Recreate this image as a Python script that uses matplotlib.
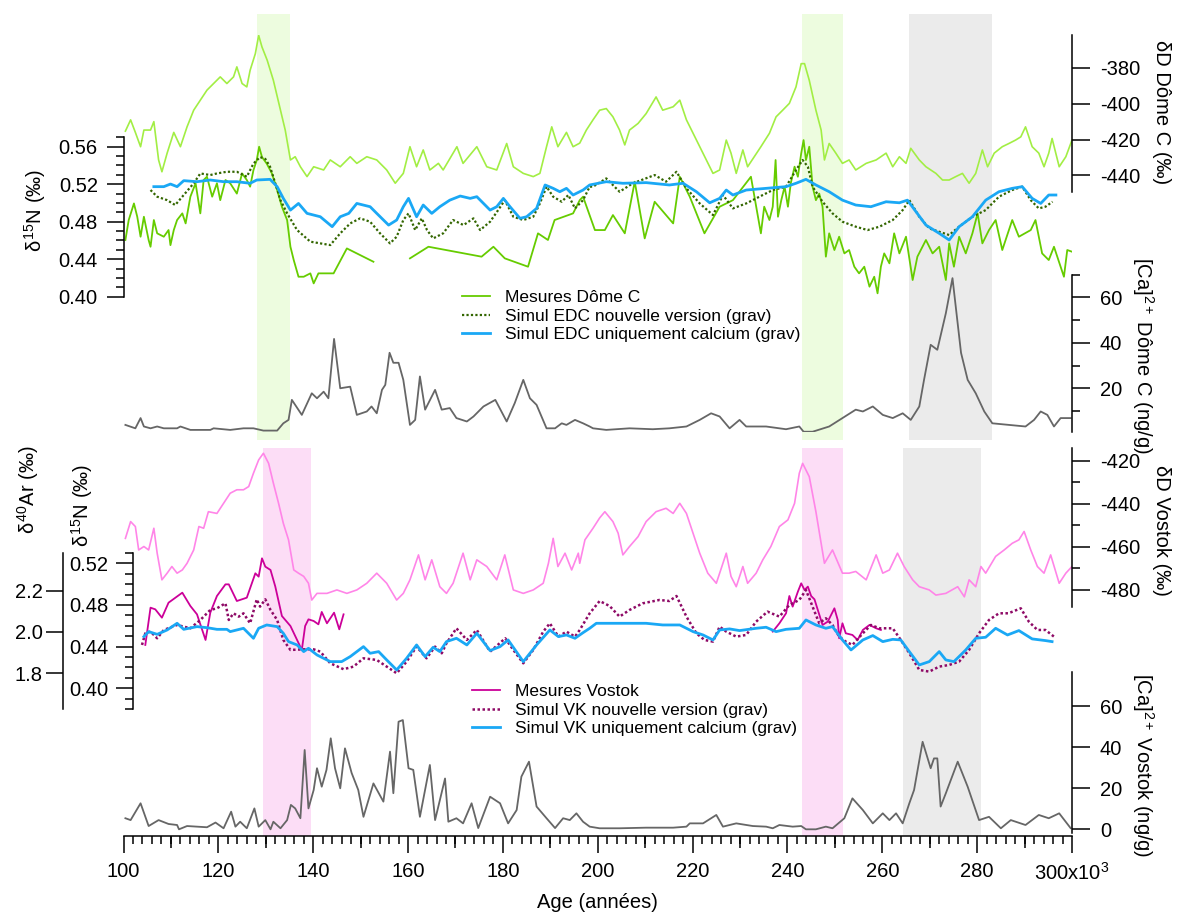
import numpy as np
import matplotlib
matplotlib.use('Agg')
import matplotlib.pyplot as plt
from matplotlib.ticker import MultipleLocator, FixedLocator, FormatStrFormatter, NullLocator

plt.rcParams['font.family'] = ['Liberation Sans', 'DejaVu Sans']
plt.rcParams['axes.unicode_minus'] = False
plt.rcParams['mathtext.fontset'] = 'custom'
plt.rcParams['mathtext.rm'] = 'Liberation Sans'
plt.rcParams['mathtext.it'] = 'Liberation Sans'

# ---------------- données (âge en ka) ----------------
# dD Dome C (permil)
dD_dc = [(100.4, -415.3), (101.5, -409), (102.5, -416), (103.6, -424), (104.3, -414.7), (105.7, -414.7),
         (106.4, -410), (107.4, -431.4), (108.1, -438), (109.2, -427.6), (110.6, -416), (112, -424),
         (113.4, -412.9), (114.8, -403.6), (116.2, -398), (117.6, -392.4), (119, -388.7), (120.4, -385),
         (121.8, -388.7), (123.2, -385), (123.9, -379.4), (125, -388.7), (126, -390.6), (126.7, -381.3),
         (127.8, -372), (128.5, -361.8), (129.2, -368.3), (130.3, -375.7), (131.6, -386.9), (133.1, -403.6),
         (134.1, -414.7), (135.2, -431.4), (136.2, -429.6), (137.3, -435.2), (138.7, -440.7), (140.1, -435.2),
         (142.2, -437), (143.6, -431.4), (145.7, -435.2), (147.8, -429.6), (149.2, -433.3), (151.3, -429.6),
         (153.4, -431.4), (155.5, -437), (157.3, -444.4), (159, -438.9), (160.4, -424), (161.8, -435.2),
         (163.2, -425.8), (164.6, -437), (166.4, -433.3), (167.4, -437), (170.3, -424), (171.6, -433.3),
         (174.5, -424), (176.6, -435.2), (178.7, -437), (180.8, -422.2), (182.2, -435.2), (184.3, -438.9),
         (186.4, -440.7), (187.8, -438.9), (189.2, -424), (190.3, -412.9), (191.6, -424), (193.4, -416),
         (194.8, -424), (196.2, -422), (197.6, -414.7), (199, -409), (200.4, -403.6), (201.8, -402.7),
         (203.2, -407.3), (204.6, -414.7), (205.7, -423), (206.7, -414.7), (208.5, -411), (210.2, -405.5),
         (212.3, -396.2), (213.7, -403.6), (215.9, -401.7), (217.3, -398), (218.7, -409), (220.1, -416.5),
         (221.5, -424), (222.9, -431.4), (224.3, -438.9), (225.7, -437), (227.1, -420.3), (228.1, -427.6),
         (229.2, -438.9), (230.6, -425.8), (231.6, -435.2), (233, -429.6), (234.4, -424), (236.2, -416.5),
         (237.6, -407.3), (239, -403.6), (240.4, -399.8), (241.8, -390.6), (242.9, -377.6), (243.6, -377.6),
         (244.6, -386.9), (246, -403.6), (247.1, -414.7), (247.8, -431.4), (248.8, -422.2), (250.2, -427.6),
         (251.6, -433.3), (253, -431.4), (254.4, -437), (256.6, -433.3), (258.7, -431.4), (260.8, -427.6),
         (262.2, -435.2), (263.6, -429.6), (265, -433.3), (266, -424.9), (267.8, -431.4), (269.2, -435.2),
         (271.3, -438.9), (272.7, -442.6), (274.1, -442.6), (275.5, -440.7), (276.9, -438.9), (278.3, -444.4),
         (279.7, -438.9), (281.1, -425.8), (282.2, -435.2), (283.6, -427.6), (285.3, -424), (286.7, -422.2),
         (288.1, -420.3), (289.2, -418.5), (290.2, -412.9), (291.6, -424), (293, -427.6), (294.1, -435.2),
         (295.1, -427.6), (295.8, -419.4), (297.3, -435.2), (298.7, -429.6), (300, -420.3)]

# d15N Dome C mesures (permil)
n15_dc = [(100.4, 0.4605), (101.1, 0.4818), (102.2, 0.4995), (102.9, 0.4853), (103.6, 0.464), (104.3, 0.4853),
          (105.3, 0.4605), (105.7, 0.4533), (106.4, 0.4818), (107.1, 0.4676), (108.5, 0.464), (109.5, 0.4711),
          (109.9, 0.455), (110.6, 0.4711), (111.3, 0.4818), (112.4, 0.4889), (113.1, 0.4782), (114.1, 0.5067),
          (115.2, 0.521), (116.2, 0.4889), (116.9, 0.5245), (117.6, 0.528), (118.7, 0.5067), (119.7, 0.521),
          (120.4, 0.503), (121.5, 0.5245), (122.5, 0.521), (123.9, 0.51), (125, 0.5315), (126, 0.5245),
          (126.7, 0.5174), (127.4, 0.535), (128.1, 0.5458), (128.6, 0.56), (129.2, 0.549), (130.2, 0.542),
          (131.3, 0.5315), (132.4, 0.5138), (133.4, 0.496), (134.5, 0.4818), (135.2, 0.4533), (135.9, 0.439),
          (136.9, 0.4213), (138, 0.4213), (139.4, 0.4249), (140.1, 0.4142), (141.1, 0.4249), (142.2, 0.4249),
          (143.6, 0.4249), (144.3, 0.4249), (147.1, 0.4515), (149.9, 0.4444), (152.7, 0.4373), (156, np.nan),
          (160.4, 0.4409), (164.3, 0.4533), (175.5, 0.4427), (178, 0.4533), (180.4, 0.4409), (185.3, 0.432),
          (187.4, 0.4676), (189.5, 0.4605), (190.9, 0.4818), (194.8, 0.4889), (196.2, 0.5030), (196.9, 0.5067),
          (199.4, 0.4711), (201.5, 0.4711), (203.2, 0.4871), (205.7, 0.4676), (207.8, 0.5227), (209.9, 0.4622),
          (212, 0.5013), (215.9, 0.4782), (217.3, 0.528), (219.4, 0.5067), (222.5, 0.4676), (225.7, 0.496),
          (228.5, 0.503), (232.3, 0.528), (234.4, 0.4676), (235.1, 0.496), (236.2, 0.4818), (236.9, 0.496),
          (237.5, 0.5458), (238, 0.4853), (238.7, 0.503), (239.4, 0.5174), (240.1, 0.496), (240.7, 0.521),
          (241.5, 0.5387), (242.2, 0.528), (242.9, 0.5529), (243.4, 0.5671), (243.9, 0.5458), (244.6, 0.56),
          (245.3, 0.5174), (246, 0.503), (246.7, 0.51), (247.4, 0.496), (248.1, 0.4427), (248.8, 0.4676),
          (249.9, 0.4498), (250.9, 0.464), (252, 0.4462), (253, 0.4498), (254.1, 0.432), (255.1, 0.4249),
          (256.2, 0.432), (257.3, 0.4107), (258.3, 0.4213), (259, 0.4036), (259.7, 0.432), (260.4, 0.4462),
          (261.5, 0.4356), (262.5, 0.4676), (263.6, 0.4462), (265, 0.464), (266.4, 0.4178), (267.4, 0.4427),
          (269.2, 0.4605), (270.6, 0.4462), (272, 0.4533), (273.4, 0.4178), (274.1, 0.4569), (275.1, 0.432),
          (276.2, 0.464), (277.6, 0.4462), (279, 0.4676), (280.1, 0.4889), (281.1, 0.4569), (282.5, 0.4711),
          (283.9, 0.4818), (285.3, 0.4498), (287.4, 0.4818), (288.8, 0.464), (291.3, 0.4711), (292.3, 0.4818),
          (293.7, 0.4462), (295.1, 0.4391), (296.2, 0.4533), (298.3, 0.4213), (299, 0.4498), (300, 0.448)]

# Simul EDC nouvelle version (grav)
sim_edc_new = [(105.7, 0.5138), (107.1, 0.5067), (109.2, 0.503), (110.9, 0.4978), (112.7, 0.5085), (114.8, 0.521),
               (116.2, 0.5315), (118.3, 0.5298), (119.7, 0.5315), (121.8, 0.5333), (123.9, 0.5333), (126, 0.528),
               (127.4, 0.542), (128.8, 0.549), (129.9, 0.547), (130.9, 0.5387), (132, 0.521), (133.1, 0.503),
               (134.5, 0.4889), (136.6, 0.4711), (139.4, 0.4587), (141.5, 0.4569), (143.6, 0.4551), (145.7, 0.4676),
               (147.8, 0.4782), (149.9, 0.4836), (152, 0.48), (154.1, 0.4676), (156.2, 0.4569), (157.6, 0.464),
               (159, 0.4818), (160.1, 0.4889), (161.5, 0.4711), (162.9, 0.4836), (164, 0.4711), (165.3, 0.4622),
               (167.4, 0.4676), (169.5, 0.4818), (171.7, 0.4764), (173.8, 0.4836), (175.2, 0.4711), (177.3, 0.48),
               (179, 0.4924), (180.4, 0.503), (182.2, 0.4853), (184.3, 0.4818), (186.4, 0.4853), (187.8, 0.4995),
               (189.2, 0.5174), (190.6, 0.5067), (192.4, 0.5013), (193.8, 0.5085), (195.2, 0.4942), (196.9, 0.503),
               (198.3, 0.5174), (199, 0.5174), (201.8, 0.5262), (204.6, 0.512), (207.4, 0.521), (212, 0.5298),
               (214.4, 0.5227), (216.6, 0.5333), (218.7, 0.5156), (221.5, 0.4995), (224.3, 0.4871), (226.4, 0.5085),
               (228.5, 0.4942), (231.3, 0.4995), (234.1, 0.5067), (236.9, 0.5138), (239.7, 0.5174), (241.8, 0.5351),
               (243.2, 0.5458), (244.3, 0.5387), (245.3, 0.5174), (247.4, 0.5013), (249.5, 0.4889), (251.6, 0.48),
               (254.4, 0.4747), (256.9, 0.4711), (259.4, 0.4747), (262.2, 0.4818), (264.3, 0.4924), (265.7, 0.503),
               (267.8, 0.4853), (269.9, 0.4729), (272, 0.4693), (274.1, 0.4658), (276.2, 0.4747), (279, 0.4853),
               (281.8, 0.4924), (284.6, 0.5067), (287.4, 0.5138), (289.5, 0.5174), (291.3, 0.503), (293, 0.4942),
               (294.4, 0.496), (295.9, 0.5013)]

# Simul EDC uniquement calcium (grav)
sim_edc_ca = [(106.4, 0.5174), (108.5, 0.5174), (109.9, 0.5202), (111.3, 0.5174), (112.7, 0.5238), (115.5, 0.5227),
              (118.3, 0.5245), (121.1, 0.5227), (123.9, 0.5227), (126.7, 0.521), (128.1, 0.5245), (130.9, 0.5252),
              (132.4, 0.5174), (133.7, 0.5049), (135.2, 0.4924), (136.9, 0.4995), (138.7, 0.4889), (141.5, 0.4853),
              (144, 0.4747), (145.7, 0.4853), (147.5, 0.4889), (149.2, 0.4995), (152, 0.496), (153.4, 0.4889),
              (155.9, 0.4764), (157.6, 0.4818), (159, 0.496), (160.1, 0.5049), (161.8, 0.4853), (163.2, 0.4978),
              (165, 0.4889), (166.7, 0.496), (168.8, 0.503), (171, 0.5074), (173.1, 0.5049), (174.5, 0.5067),
              (177.3, 0.4924), (178.7, 0.496), (180.1, 0.5049), (181.5, 0.496), (183.6, 0.4836), (185, 0.4853),
              (187.1, 0.4942), (188.9, 0.5192), (190.6, 0.5156), (192, 0.512), (193.4, 0.5156), (194.8, 0.5085),
              (196.9, 0.5138), (198.3, 0.5192), (201.8, 0.5227), (205.3, 0.521), (210.2, 0.5217), (215.1, 0.5192),
              (218, 0.521), (220.8, 0.512), (223.6, 0.5002), (225.7, 0.5049), (227.1, 0.5138), (228.5, 0.5085),
              (231.3, 0.5138), (235.5, 0.5156), (239.7, 0.5174), (241.8, 0.521), (243.9, 0.5252), (246, 0.5192),
              (248.8, 0.512), (251.6, 0.503), (254.4, 0.4978), (257.6, 0.496), (260.8, 0.5013), (263.6, 0.5002),
              (265.3, 0.503), (267.1, 0.4907), (269.2, 0.4764), (272, 0.4676), (274.1, 0.4605), (276.2, 0.4747),
              (279, 0.4853), (281.8, 0.503), (284.6, 0.512), (287.4, 0.5156), (289.5, 0.5174), (291.6, 0.5049),
              (293.4, 0.4995), (295.1, 0.5085), (296.6, 0.5085)]

# [Ca]2+ Dome C (ng/g)
ca_dc = [(100.4, 3.9), (102.5, 2.4), (103.6, 6.9), (104.3, 3.2), (105.7, 2.4), (107.1, 3.2), (108.5, 2.4),
         (111.3, 2.4), (112, 3.2), (114.1, 1.7), (118.3, 1.7), (119, 2.4), (122.5, 1.7), (125.3, 2.4),
         (127.4, 2.4), (129.5, 1.4), (132.4, 1.4), (133.7, 4.6), (134.8, 6.1), (135.5, 14.9), (137.6, 8.3),
         (139.7, 17.8), (140.8, 15.6), (142.2, 18.5), (143.2, 15.6), (144.4, 41.7), (145.7, 20), (147.8, 20.7),
         (149.2, 8.3), (151.3, 9.8), (152.3, 12), (153.4, 9), (154.5, 19.3), (155.2, 21.5), (156.1, 35.6),
         (156.9, 31.2), (158, 31.2), (159, 23.7), (160.4, 3.9), (161.5, 6.1), (162.5, 25.2), (163.6, 10.6),
         (165.7, 19.3), (167.1, 10.6), (168.8, 11.3), (170.2, 6.9), (172.4, 5.4), (173.8, 7.6), (175.9, 12),
         (178.4, 14.9), (180.8, 5.4), (182.5, 13.5), (184.3, 23.7), (185.7, 15.6), (187.1, 12.7), (189.2, 2.4),
         (191, 2.4), (192.4, 4.6), (193.4, 3.9), (195.2, 6.1), (196.9, 4.6), (198.3, 3.2), (199, 2.4),
         (201.8, 1.7), (206.7, 2.4), (211.6, 2), (215.1, 2.4), (218.7, 3.2), (221.5, 6.1), (223.9, 9),
         (225.7, 7.6), (227.8, 2.4), (229.9, 6.1), (231.3, 3.2), (235.5, 3.2), (239.7, 2), (242.5, 3.2),
         (243.4, 0.9), (245.3, 0.9), (248.8, 3.2), (251.6, 6.9), (254.4, 10.6), (255.9, 9.8), (258, 12),
         (260.1, 8.3), (262.2, 6.9), (264.3, 9), (266, 6.1), (267.8, 12), (268.8, 23.7), (270.2, 39.1),
         (271.6, 36.9), (273.4, 53), (274.8, 68.4), (276.6, 35.6), (278, 23.7), (279.7, 17.8), (281.5, 9.8),
         (283.2, 4.6), (286.7, 3.9), (290.2, 3.2), (292, 6.1), (293.4, 9.8), (294.8, 8.3), (296.2, 3.2),
         (297.6, 6.9), (299.7, 6.9)]

# dD Vostok (permil)
dD_vk = [(100.4, -456), (101.5, -448.2), (102.5, -450.5), (103.2, -461.4), (104.3, -459.8), (105.3, -461.4),
         (106.4, -451.3), (107.1, -462.9), (108.1, -475.3), (109.2, -472.2), (110.2, -469.1), (111.3, -472.2),
         (112.4, -470.7), (113.4, -467.6), (114.8, -461.4), (115.9, -450.5), (116.9, -451.3), (117.9, -443.6),
         (119.7, -444.4), (121.1, -439.7), (122.5, -435), (123.9, -433.4), (125.3, -433.4), (126.4, -431.9),
         (127.4, -425.7), (128.5, -419.5), (129.5, -416.4), (130.6, -421.1), (131.6, -430.3), (132.7, -439.7),
         (133.7, -449), (134.8, -456.7), (135.9, -470.7), (136.9, -472.2), (138, -473.7), (139, -476.9),
         (139.7, -484.7), (140.8, -481.6), (142.9, -481.6), (145, -480), (147.1, -481.6), (149.2, -480),
         (151.3, -476.9), (153.4, -472.2), (155.5, -476.9), (157.6, -484.7), (159, -481.6), (160.4, -475.3),
         (162.2, -463.7), (163.6, -475.3), (165, -466), (166.7, -478.5), (168.1, -481.6), (169.5, -476.9),
         (171.6, -462.9), (173.1, -475.3), (174.5, -466), (176.6, -469.1), (178.7, -475.3), (180.4, -463.7),
         (182.2, -480), (184.3, -481.6), (186.4, -480), (188.5, -476.9), (189.6, -467.6), (190.6, -456),
         (191.6, -469.1), (193.1, -462.9), (194.5, -470.7), (195.9, -462.9), (196.2, -467.6), (197.3, -456.7),
         (199, -451.3), (200.4, -446.5), (201.5, -443.6), (203.2, -448.2), (204.3, -453.6), (205.3, -463.7),
         (206.7, -459.8), (208.5, -455.2), (210.2, -448.2), (212.3, -443.6), (214.4, -442), (215.9, -444.4),
         (217.3, -439.7), (218.7, -444.4), (220.1, -453.6), (221.5, -462.9), (223.2, -472.2), (225, -476.9),
         (227.1, -462.9), (228.1, -473.7), (229.2, -478.5), (230.6, -469.1), (231.6, -476.9), (233.4, -472.2),
         (234.8, -466), (236.5, -459.8), (238.3, -450.5), (240.1, -447.4), (241.5, -439.7), (242.5, -425.7),
         (243.2, -421.1), (244.6, -427.3), (246, -443.6), (247.8, -467.6), (249.5, -461.4), (251.6, -472.2),
         (253, -472.2), (254.4, -471.4), (256.6, -475.3), (258, -467.6), (258.7, -463.7), (260.1, -472.2),
         (261.5, -470.7), (263.2, -462.9), (264.6, -469.1), (266.4, -475.3), (267.8, -478.5), (269.9, -480),
         (271.3, -482.4), (273.4, -481.6), (275.9, -478.5), (277.3, -483.2), (278.3, -475.3), (279.7, -478.5),
         (280.8, -469.1), (281.8, -472.2), (283.9, -464.4), (285.7, -461.4), (287.4, -458.3), (288.8, -456.7),
         (289.9, -452.8), (291.3, -461.4), (292.7, -469.1), (294.1, -472.2), (295.5, -463.7), (297.3, -476.9),
         (298.7, -472.2), (300, -469.1)]

# Mesures Vostok (d15N / d40Ar, permil)
mes_vk_1 = [(104.6, 0.4416), (105.7, 0.4774), (106.7, 0.4758), (108.1, 0.4678), (109.5, 0.4822), (112.4, 0.4918),
            (114.1, 0.479), (115.5, 0.471), (117.3, 0.4464), (118.3, 0.4726), (119.7, 0.4886), (121.5, 0.4998),
            (122.2, 0.4998), (123.9, 0.4838), (126, 0.487), (127.8, 0.5104), (128.5, 0.5072), (129.2, 0.5248),
            (129.9, 0.5168), (131, 0.5136), (132, 0.4978), (133.4, 0.4694), (135.2, 0.4598), (136.6, 0.4464),
            (137.6, 0.4368), (138.3, 0.4598), (139, 0.4662), (140.1, 0.4646), (141.1, 0.4614), (141.8, 0.4733),
            (142.9, 0.4624), (144.4, 0.4726), (145.5, 0.4566), (146.4, 0.471)]
mes_vk_2 = [(236.9, 0.4544), (238.3, 0.4624), (239.7, 0.472), (240.4, 0.4886), (241.1, 0.4784), (242.2, 0.4928),
            (242.9, 0.5008), (243.6, 0.4944), (244.3, 0.4976), (245, 0.4886), (245.7, 0.4854), (246.4, 0.4752),
            (247.4, 0.4608), (248.5, 0.464), (249.9, 0.4768), (250.6, 0.4656), (250.9, 0.448), (251.6, 0.4624),
            (252.3, 0.4528), (253.7, 0.4512), (254.8, 0.4464), (255.9, 0.456), (257.3, 0.4608), (258.7, 0.4576),
            (259.7, 0.456)]

# Simul VK nouvelle version (grav)
sim_vk_new = [(103.9, 0.4416), (104.6, 0.4528), (105.7, 0.4544), (107.1, 0.448), (108.5, 0.456), (111.3, 0.4608),
              (114.1, 0.4576), (116.2, 0.4656), (118.3, 0.4752), (119.7, 0.4768), (121.5, 0.4816), (122.2, 0.4656),
              (123.2, 0.472), (124.3, 0.4688), (125.3, 0.472), (126.7, 0.4624), (128.1, 0.4854), (128.8, 0.4784),
              (129.9, 0.4854), (131, 0.4752), (132.4, 0.4656), (133.7, 0.4464), (135.2, 0.4368), (138, 0.4374),
              (140.1, 0.4374), (141.5, 0.4352), (143.6, 0.424), (146.4, 0.4183), (148.5, 0.4208), (150.6, 0.4288),
              (153.4, 0.4272), (155.5, 0.4208), (157.6, 0.4144), (159.7, 0.4256), (161.8, 0.44), (163.9, 0.4288),
              (165.7, 0.44), (167.1, 0.4336), (168.1, 0.4432), (170.2, 0.4576), (172.4, 0.4464), (174.5, 0.456),
              (177.3, 0.4352), (180.5, 0.448), (182.2, 0.4368), (184.3, 0.424), (186.4, 0.4368), (188.5, 0.4544),
              (189.9, 0.4624), (191.7, 0.4496), (193.4, 0.4544), (195.2, 0.4496), (196.2, 0.456), (198.3, 0.472),
              (200.4, 0.4838), (202.5, 0.479), (204.6, 0.4688), (206.7, 0.4752), (209.5, 0.4816), (213, 0.4848),
              (215.1, 0.4838), (216.6, 0.4886), (218.7, 0.4688), (220.8, 0.4528), (222.5, 0.4464), (224.3, 0.4448),
              (225.7, 0.4592), (227.1, 0.4544), (229.2, 0.4496), (231.3, 0.4512), (233.4, 0.464), (235.8, 0.4736),
              (238.3, 0.4688), (240.4, 0.48), (242.5, 0.4848), (243.9, 0.4944), (245.3, 0.4784), (246.7, 0.4624),
              (248.1, 0.4672), (249.5, 0.4608), (250.9, 0.4496), (252.3, 0.4448), (253.7, 0.4416), (255.9, 0.4528),
              (257.6, 0.4608), (259.4, 0.4576), (262.2, 0.4576), (263.9, 0.4464), (265.7, 0.4336), (267.8, 0.4176),
              (269.9, 0.416), (272, 0.4208), (274.1, 0.4224), (276.2, 0.4256), (278.3, 0.4368), (280.4, 0.4528),
              (282.5, 0.4656), (284.6, 0.472), (286.6, 0.472), (289.2, 0.4768), (290.9, 0.464), (292.7, 0.456),
              (294.4, 0.456), (296.2, 0.4496)]

# Simul VK uniquement calcium (grav)
sim_vk_ca = [(104.3, 0.4496), (105.3, 0.4544), (107.1, 0.4518), (109.2, 0.456), (111.3, 0.4624), (112.7, 0.4566),
             (115.5, 0.4592), (117.6, 0.4582), (119.7, 0.4566), (121.8, 0.4566), (122.5, 0.4544), (125.3, 0.4576),
             (127.4, 0.448), (128.5, 0.4576), (130.2, 0.4608), (132.4, 0.4592), (133.7, 0.4528), (134.8, 0.4448),
             (136.6, 0.4416), (138, 0.4352), (139, 0.4384), (140.8, 0.432), (143.6, 0.4256), (146, 0.4256),
             (147.8, 0.4304), (150.6, 0.44), (152, 0.4336), (153.8, 0.4352), (155.5, 0.4272), (157.6, 0.4176),
             (159.7, 0.4288), (161.8, 0.4416), (163.6, 0.4304), (165.3, 0.4394), (166.7, 0.4352), (168.1, 0.4448),
             (170.2, 0.448), (172.4, 0.4416), (174.5, 0.4528), (177.3, 0.4362), (179.4, 0.44), (181.1, 0.4464),
             (184.3, 0.4256), (187.1, 0.4416), (189.9, 0.456), (191.7, 0.4496), (193.4, 0.4512), (195.2, 0.448),
             (196.9, 0.4534), (198.3, 0.4576), (199.7, 0.4624), (203.2, 0.4624), (206.7, 0.4624), (210.2, 0.4624),
             (213.7, 0.4608), (217.3, 0.4608), (220.1, 0.4544), (222.2, 0.4512), (224.3, 0.4464), (225.7, 0.456),
             (227.8, 0.457), (229.9, 0.4554), (233.4, 0.4576), (235.5, 0.4586), (237.6, 0.4544), (239.7, 0.4566),
             (242.5, 0.4576), (243.9, 0.4656), (246, 0.4608), (248.1, 0.4576), (249.5, 0.4592), (251.6, 0.4464),
             (253.4, 0.4368), (255.9, 0.4464), (258, 0.4506), (260.1, 0.4448), (262.2, 0.447), (263.9, 0.4464),
             (265.7, 0.4352), (267.8, 0.4224), (269.9, 0.4256), (272, 0.4352), (273.4, 0.4272), (275.1, 0.4256),
             (277.6, 0.4368), (279.7, 0.448), (281.8, 0.449), (283.9, 0.4576), (286.4, 0.4512), (288.8, 0.4554),
             (291.6, 0.4474), (294.4, 0.4458), (295.8, 0.4448)]

# [Ca]2+ Vostok (ng/g)
ca_vk = [(100.4, 5.4), (101.5, 4.5), (103.6, 12.7), (105.3, 1.6), (107.4, 4.5), (109.5, 2.6), (111.3, 2.1),
         (111.7, 0), (113.4, 1.6), (115.5, 1.3), (117.6, 1), (119.4, 3.3), (121.1, 0.5), (122.7, 8.6),
         (123.6, 1.3), (124.6, 3.7), (126, 0.5), (127.6, 10.2), (128.5, 1.3), (129.9, 4.5), (131, 0),
         (131.6, 3.7), (133.1, 0.5), (134.5, 4.5), (135.3, 11.9), (136.2, 10.2), (137.3, 5.4), (138.2, 38.7),
         (139, 10.2), (140.1, 19.2), (140.8, 29.8), (141.8, 20.8), (142.8, 29), (143.7, 44.4), (144.6, 29.8),
         (145.7, 20), (146.7, 39.5), (148.1, 27.5), (149.5, 19.2), (150.6, 6.1), (152.7, 22.4), (154.8, 13.5),
         (156.2, 37.9), (156.9, 17.6), (158, 52.5), (158.9, 53.3), (160.1, 29.8), (161.1, 29), (162.5, 6.1),
         (164.6, 31.4), (165.7, 4.5), (167.8, 24.8), (168.5, 3.7), (170.2, 5.4), (171.6, 2.9), (173.4, 12.7),
         (174.8, 0.6), (177.3, 15.9), (179.4, 12.7), (181.1, 2.9), (182.9, 9.4), (183.9, 25.7), (185.5, 33),
         (187.1, 11.1), (189.2, 5.4), (191, 0.6), (192.7, 5.4), (194.1, 4.5), (195.5, 7.8), (196.9, 3.7),
         (198.3, 1.3), (200.4, 0.5), (204.6, 0.5), (210.2, 0.8), (215.9, 0.8), (218.7, 1.3), (219.4, 2.9),
         (222.2, 2.9), (225, 7), (226.4, 1.3), (229.2, 2.9), (232.7, 1.6), (235.5, 1.3), (236.9, 0.5),
         (238.3, 2.1), (241.1, 1.3), (242.9, 1.6), (243.9, 0), (246, 0), (248.1, 1.3), (249.5, 0.5),
         (252, 5.4), (253.7, 15.1), (255.9, 9.4), (258, 2.9), (260.1, 7.8), (261.5, 4.5), (262.9, 7.8),
         (264.3, 2.9), (265.7, 12.7), (266.7, 19.2), (268.5, 42.7), (270.2, 29.8), (270.9, 34.6), (271.6, 34.6),
         (272.3, 11.1), (273.4, 17.6), (275.9, 33), (278, 20.8), (280.4, 4.5), (282.5, 6.1), (285, 0.5),
         (287.1, 4.5), (290.2, 2.1), (293, 7), (295.1, 5.4), (297.3, 7.8), (299.7, 0.6)]

# zones grisees / colorees (ka)
bandes_haut = [(128.2, 135.2, '#EDFCDF'), (243.1, 251.7, '#EDFCDF'), (265.6, 283.1, '#EBEBEB')]
bandes_bas = [(129.5, 139.6, '#FCDDF6'), (243.1, 251.7, '#FCDDF6'), (264.4, 280.8, '#EBEBEB')]

age_ticks = [100, 120, 140, 160, 180, 200, 220, 240, 260, 280, 300]
age_labels = ['100', '120', '140', '160', '180', '200', '220', '240', '260', '280', '300x10$^{3}$']

# ---------------- figure ----------------
W, H = 1179, 915
fig = plt.figure(figsize=(W / 100, H / 100), dpi=100)
X0, X1 = 123.5, 1072
FS = 14.5


def boite(y0, y1):
    # axes placé en pixels (origine en haut)
    return fig.add_axes([X0 / W, 1 - y1 / H, (X1 - X0) / W, (y1 - y0) / H])


def axe_y(ax, cote, ylim, major, minor, fmt, pad=6, majlen=12.5):
    ax.set_xlim(100, 300)
    ax.set_ylim(*ylim)
    ax.patch.set_visible(False)
    for s in ax.spines.values():
        s.set_visible(False)
    ax.spines[cote].set_visible(True)
    ax.spines[cote].set_linewidth(1.1)
    ax.xaxis.set_visible(False)
    ax.yaxis.set_ticks_position(cote)
    ax.yaxis.set_major_locator(MultipleLocator(major))
    if minor:
        ax.yaxis.set_minor_locator(MultipleLocator(minor))
    else:
        ax.yaxis.set_minor_locator(NullLocator())
    ax.yaxis.set_major_formatter(FormatStrFormatter(fmt))
    ax.tick_params(axis='y', which='major', direction='out', length=majlen, width=1.1, labelsize=FS, pad=pad)
    ax.tick_params(axis='y', which='minor', direction='out', length=6, width=1.1)


def trace(ax, data, **kw):
    a = np.array(data, dtype=float)
    return ax.plot(a[:, 0], a[:, 1], **kw)[0]


# axe principal : ages + bandes
ax0 = boite(10, 836)
ax0.set_xlim(100, 300)
ax0.set_ylim(0, 1)
for s in ['left', 'right', 'top']:
    ax0.spines[s].set_visible(False)
ax0.spines['bottom'].set_linewidth(1.1)
ax0.yaxis.set_visible(False)
ax0.xaxis.set_major_locator(FixedLocator(age_ticks))
ax0.set_xticklabels(age_labels)
ax0.xaxis.set_minor_locator(MultipleLocator(2))
ax0.tick_params(axis='x', which='major', direction='out', length=12, width=1.1, labelsize=FS, pad=7)
ax0.tick_params(axis='x', which='minor', direction='out', length=5.5, width=1.1)
ax0.set_xlabel('Age (années)', fontsize=FS, labelpad=6)
for a, b, c in bandes_haut:
    ax0.axvspan(a, b, ymin=(836 - 440) / 826, ymax=1 - 4 / 826, color=c, lw=0, zorder=0)
for a, b, c in bandes_bas:
    ax0.axvspan(a, b, ymin=0, ymax=(836 - 448) / 826, color=c, lw=0, zorder=0)
ax_mid = boite(10, 836)
ax_mid.set_xlim(100, 300)
ax_mid.patch.set_visible(False)
for s in ax_mid.spines.values():
    s.set_visible(False)
ax_mid.yaxis.set_visible(False)
ax_mid.set_xticks(range(110, 300, 20))
ax_mid.tick_params(axis='x', direction='out', length=8.5, width=1.1, labelbottom=False)

# dD Dome C
ax_ddc = boite(35, 192)
axe_y(ax_ddc, 'right', (-449.3, -361.6), 20, None, '%d', pad=7, majlen=13)
trace(ax_ddc, dD_dc, color='#A2EE44', lw=1.2)

# Ca Dome C
ax_cdc = boite(274.5, 431.5)
axe_y(ax_cdc, 'right', (1, 70), 20, 10, '%d', pad=7, majlen=13)
trace(ax_cdc, ca_dc, color='#666666', lw=1.3)

# d15N Dome C
ax_ndc = boite(136.7, 296.7)
axe_y(ax_ndc, 'left', (0.40, 0.5707), 0.04, 0.01, '%.2f', pad=6)
l1 = trace(ax_ndc, n15_dc, color='#66CC00', lw=1.3)
l2 = trace(ax_ndc, sim_edc_new, color='#336600', lw=1.6, ls=(0, (1, 1)))
l3 = trace(ax_ndc, sim_edc_ca, color='#1AA8F5', lw=2.0)

# dD Vostok
ax_dvk = boite(448.3, 606.7)
axe_y(ax_dvk, 'right', (-487.8, -414.1), 20, 10, '%d', pad=7, majlen=13)
trace(ax_dvk, dD_vk, color='#FF85E8', lw=1.2)

# Ca Vostok
ax_cvk = boite(671.7, 833)
axe_y(ax_cvk, 'right', (-1.8, 76.9), 20, None, '%d', pad=7, majlen=13)
trace(ax_cvk, ca_vk, color='#666666', lw=1.3)

# d40Ar (axe seul)
ax_ar = boite(552.9, 709.1)
axe_y(ax_ar, 'left', (1.625, 2.383), 0.2, None, '%.1f', pad=2.5, majlen=12)
ax_ar.spines['left'].set_position(('axes', (63 - X0) / (X1 - X0)))

# d15N Vostok
ax_nvk = boite(552.9, 709.1)
axe_y(ax_nvk, 'left', (0.38, 0.53), 0.04, 0.01, '%.2f', pad=6, majlen=12)
ax_nvk.spines['left'].set_position(('axes', (133 - X0) / (X1 - X0)))
m1 = trace(ax_nvk, mes_vk_1, color='#CC0099', lw=1.3)
trace(ax_nvk, mes_vk_2, color='#CC0099', lw=1.3)
m2 = trace(ax_nvk, sim_vk_new, color='#8E0A66', lw=1.8, ls=(0, (1, 1)))
m3 = trace(ax_nvk, sim_vk_ca, color='#1AA8F5', lw=2.0)

# legendes
leg_kw = dict(loc='upper left', frameon=False, fontsize=12.5, handlelength=1.6, handletextpad=0.85,
              labelspacing=0.2, borderpad=0, borderaxespad=0)
fig.legend([l1, l2, l3], ['Mesures Dôme C', 'Simul EDC nouvelle version (grav)',
                          'Simul EDC uniquement calcium (grav)'],
           bbox_to_anchor=(462 / W, 1 - 290 / H), **leg_kw)
fig.legend([m1, m2, m3], ['Mesures Vostok', 'Simul VK nouvelle version (grav)',
                          'Simul VK uniquement calcium (grav)'],
           bbox_to_anchor=(472 / W, 1 - 684 / H), **leg_kw)

# titres d'axes
fig.text(35 / W, 1 - 210 / H, r'$\delta^{15}$N (‰)', rotation=90, ha='center', va='center', fontsize=FS)
fig.text(28 / W, 1 - 490 / H, r'$\delta^{40}$Ar (‰)', rotation=90, ha='center', va='center', fontsize=FS)
fig.text(82 / W, 1 - 505 / H, r'$\delta^{15}$N (‰)', rotation=90, ha='center', va='center', fontsize=FS)
fig.text(1161 / W, 1 - 112 / H, 'δD Dôme C (‰)', rotation=270, ha='center', va='center', fontsize=FS)
fig.text(1143 / W, 1 - 355 / H, '[Ca]$^{2+}$ Dôme C (ng/g)', rotation=270, ha='center', va='center', fontsize=FS)
fig.text(1161 / W, 1 - 530 / H, 'δD Vostok (‰)', rotation=270, ha='center', va='center', fontsize=FS)
fig.text(1143 / W, 1 - 765 / H, '[Ca]$^{2+}$ Vostok (ng/g)', rotation=270, ha='center', va='center', fontsize=FS)

fig.savefig('out.png', dpi=100)
